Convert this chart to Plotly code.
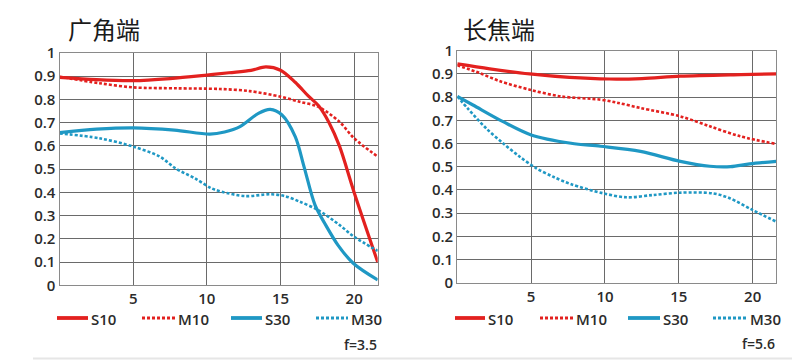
import plotly.graph_objects as go

# ---------------- data ----------------
panel_titles = ["广角端", "长焦端"]
aperture_labels = ["f=3.5", "f=5.6"]
series_names = ["S10", "M10", "S30", "M30"]

x_ticks = [5, 10, 15, 20]
y_ticks = [0, 0.1, 0.2, 0.3, 0.4, 0.5, 0.6, 0.7, 0.8, 0.9, 1]
y_tick_text = ["0", "0.1", "0.2", "0.3", "0.4", "0.5", "0.6", "0.7", "0.8", "0.9", "1"]

# wide end (广角端)
w_s10_x = [0, 2.5, 5, 7.5, 10, 11.5, 13, 14, 15, 16, 16.9, 17.6, 18.3, 19, 20, 21.6]
w_s10_y = [0.895, 0.885, 0.881, 0.89, 0.905, 0.915, 0.925, 0.94, 0.926, 0.874, 0.814, 0.772, 0.70, 0.60, 0.40, 0.1]
w_m10_x = [0, 2.7, 5, 8, 10.9, 12.9, 15, 16.3, 17.55, 19, 20, 21.6]
w_m10_y = [0.898, 0.87, 0.852, 0.848, 0.845, 0.836, 0.812, 0.79, 0.769, 0.704, 0.633, 0.554]
w_s30_x = [0, 2.5, 5, 7.8, 10.2, 11.2, 12.25, 13.5, 14.3, 15.1, 16, 16.6, 17.34, 18, 18.9, 19.94, 21.6]
w_s30_y = [0.657, 0.672, 0.678, 0.668, 0.651, 0.66, 0.683, 0.74, 0.757, 0.733, 0.64, 0.51, 0.346, 0.267, 0.173, 0.095, 0.023]
w_m30_x = [0, 2.7, 5, 6.8, 7.85, 9.2, 10.3, 11, 12.6, 14.3, 15.3, 16.3, 17.55, 19, 20, 21.6]
w_m30_y = [0.654, 0.633, 0.597, 0.554, 0.504, 0.46, 0.418, 0.403, 0.384, 0.392, 0.384, 0.36, 0.324, 0.26, 0.209, 0.148]

# tele end (长焦端)
t_s10_x = [0, 2.2, 4.9, 7.6, 10.3, 12.5, 15.1, 19.2, 21.6]
t_s10_y = [0.943, 0.922, 0.9, 0.885, 0.878, 0.88, 0.89, 0.897, 0.9]
t_m10_x = [0, 1.5, 2.9, 4.9, 7, 9.7, 10.9, 12.4, 15.1, 17.1, 19.15, 21.6]
t_m10_y = [0.937, 0.904, 0.868, 0.832, 0.803, 0.789, 0.775, 0.753, 0.717, 0.674, 0.631, 0.598]
t_s30_x = [0, 1.06, 3.1, 5, 7.7, 9.7, 12.4, 15.1, 17.1, 18.5, 19.8, 21.6]
t_s30_y = [0.803, 0.766, 0.694, 0.637, 0.601, 0.588, 0.566, 0.523, 0.502, 0.5, 0.512, 0.523]
t_m30_x = [0, 0.72, 1.96, 3.1, 4.23, 5.35, 6.48, 7.72, 9.9, 11.45, 13.26, 15.07, 17.3, 18.45, 20, 21.6]
t_m30_y = [0.803, 0.75, 0.665, 0.601, 0.543, 0.493, 0.457, 0.424, 0.385, 0.368, 0.378, 0.388, 0.385, 0.364, 0.313, 0.263]

# ---------------- style / layout ----------------
OFF = 8  # default page body margin
W, H = 800 - OFF, 362 - OFF
RED = "#e3211f"
BLUE = "#1f98c4"
GRID = "#6a6a6a"
TXT = "#2b2b2b"
FONT = "Open Sans"
CJK = "Noto Sans CJK SC"

styles = {
    "S10": dict(color=RED, width=3.2, dash="solid"),
    "M10": dict(color=RED, width=2.6, dash="3px,2px"),
    "S30": dict(color=BLUE, width=3.2, dash="solid"),
    "M30": dict(color=BLUE, width=2.6, dash="3px,2px"),
}

# legend sample positions (window pixels): (line start, line end) per entry, per panel
legend_rows = [
    dict(y=318, items=[(57, 88), (142, 175), (231, 262), (316, 348)]),
    dict(y=318, items=[(455, 485), (540, 573), (628, 660), (713, 747)]),
]

panels = [
    ([(w_s10_x, w_s10_y), (w_m10_x, w_m10_y), (w_s30_x, w_s30_y), (w_m30_x, w_m30_y)], "x", "y"),
    ([(t_s10_x, t_s10_y), (t_m10_x, t_m10_y), (t_s30_x, t_s30_y), (t_m30_x, t_m30_y)], "x2", "y2"),
]


def px_x(p):
    return (p - OFF) / W


def px_y(p):
    return 1 - (p - OFF) / H


fig = go.Figure()
for series, xa, ya in panels:
    for name, (xs, ys) in zip(series_names, series):
        fig.add_trace(go.Scatter(
            x=xs, y=ys, name=name, mode="lines",
            line=dict(shape="spline", smoothing=0.9, **styles[name]),
            xaxis=xa, yaxis=ya, showlegend=False,
            hoverinfo="skip",
        ))

axis_common = dict(
    showgrid=True, gridcolor=GRID, gridwidth=1.3,
    showline=True, linecolor="#8a8a8a", linewidth=1.3, mirror=True,
    zeroline=False, ticks="", fixedrange=True,
    tickfont=dict(family=FONT, size=15, color=TXT, weight=600),
)

fig.update_layout(
    width=W, height=H,
    margin=dict(l=0, r=0, t=0, b=0, autoexpand=False),
    paper_bgcolor="white", plot_bgcolor="white",
    showlegend=False,
    xaxis=dict(domain=[px_x(59.6), px_x(377.7)], range=[0, 21.6], anchor="y",
               tickvals=x_ticks, **axis_common),
    yaxis=dict(domain=[px_y(285.3), px_y(53)], range=[0, 1], anchor="x",
               tickvals=y_ticks, ticktext=y_tick_text, **axis_common),
    xaxis2=dict(domain=[px_x(457.3), px_x(776.3)], range=[0, 21.6], anchor="y2",
                tickvals=x_ticks, **axis_common),
    yaxis2=dict(domain=[px_y(282.7), px_y(50.7)], range=[0, 1], anchor="x2",
                tickvals=y_ticks, ticktext=y_tick_text, **axis_common),
)

# legends (drawn per panel)
for row in legend_rows:
    for name, (x0, x1) in zip(series_names, row["items"]):
        st = styles[name]
        fig.add_shape(type="line", xref="paper", yref="paper",
                      x0=px_x(x0), x1=px_x(x1), y0=px_y(row["y"]), y1=px_y(row["y"]),
                      line=dict(color=st["color"], width=st["width"] + 0.6, dash=st["dash"]))
        fig.add_annotation(text=name, x=px_x(x1 + 0.5), y=px_y(row["y"] + 0.5),
                           xref="paper", yref="paper", xanchor="left", yanchor="middle",
                           showarrow=False,
                           font=dict(family=FONT, size=15, color=TXT, weight=600))

# panel titles
for title, (tx, ty) in zip(panel_titles, [(66, 28), (461, 29)]):
    fig.add_annotation(text=title, x=px_x(tx), y=px_y(ty), xref="paper", yref="paper",
                       xanchor="left", yanchor="middle", showarrow=False,
                       font=dict(family=CJK, size=24, color="#1a1a1a"))

# aperture notes
for lab, (ax_, ay_) in zip(aperture_labels, [(379, 344), (777, 343)]):
    fig.add_annotation(text=lab, x=px_x(ax_), y=px_y(ay_), xref="paper", yref="paper",
                       xanchor="right", yanchor="middle", showarrow=False,
                       font=dict(family=FONT, size=14, color=TXT, weight=600))

# faint separator line at the bottom
fig.add_shape(type="line", xref="paper", yref="paper", x0=px_x(33), x1=1,
              y0=px_y(358.5), y1=px_y(358.5), line=dict(color="#e6e6e6", width=2))

fig.write_html("out.html")
